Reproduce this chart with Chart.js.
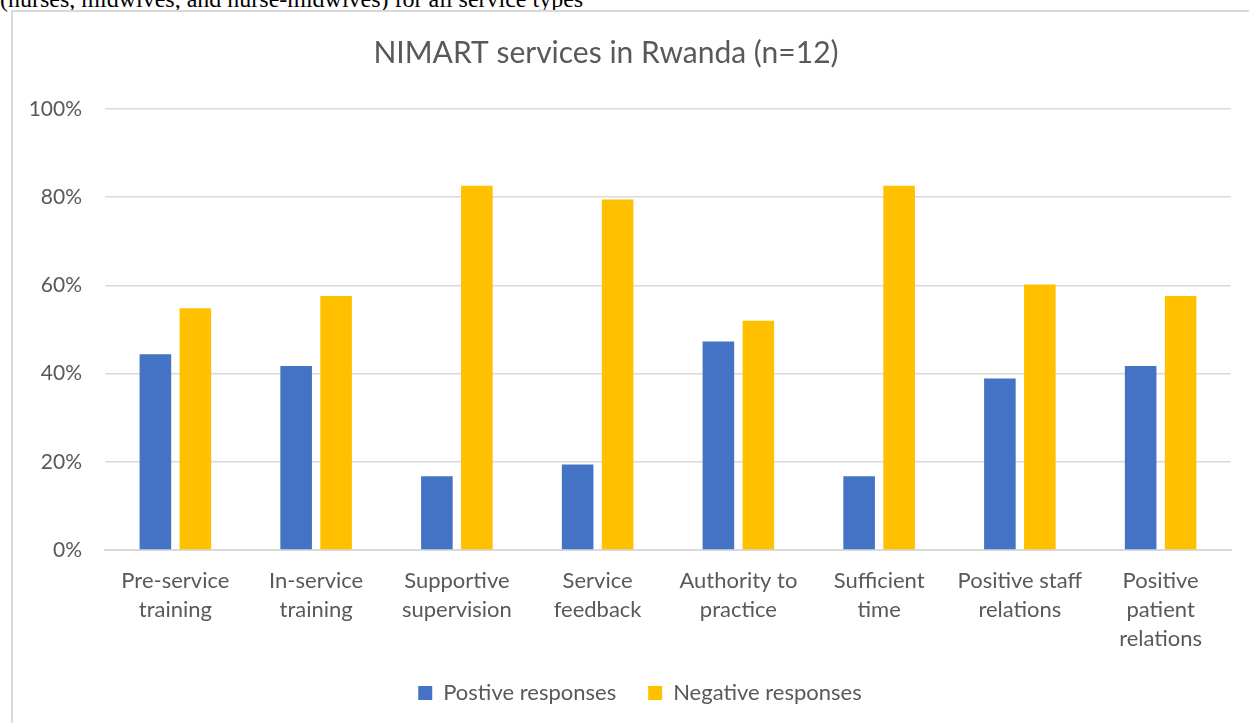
<!DOCTYPE html>
<html>
<head>
<meta charset="utf-8">
<script src="https://cdn.jsdelivr.net/npm/chart.js@4"></script>
<style>
  html, body { margin: 0; padding: 0; background: #fff; overflow: hidden; }
  #caption {
    position: absolute; left: 0; top: -13px;
    font-family: "Liberation Serif", "Times New Roman", serif;
    font-size: 24px; line-height: 24px; color: #000; white-space: nowrap;
  }
  #frame {
    position: absolute; left: 11px; top: 10px; width: 1300px; height: 800px;
    border-left: 2px solid #d9d9d9; border-top: 2px solid #d9d9d9;
  }
  #chart { position: absolute; left: 0; top: 0; }
</style>
</head>
<body>
<div id="caption">(nurses, midwives, and nurse-midwives) for all service types</div>
<div id="frame"></div>
<canvas id="chart" width="1249" height="714"></canvas>
<script>
const categories = [
  ['Pre-service', 'training'],
  ['In-service', 'training'],
  ['Supportive', 'supervision'],
  ['Service', 'feedback'],
  ['Authority to', 'practice'],
  ['Sufficient', 'time'],
  ['Positive staff', 'relations'],
  ['Positive', 'patient', 'relations']
];
const positive = [44.4, 41.7, 16.7, 19.4, 47.3, 16.7, 38.9, 41.7];
const negative = [54.8, 57.6, 82.6, 79.5, 52.0, 82.6, 60.2, 57.6];
const yTicks = [0, 20, 40, 60, 80, 100];

const text = '#595959';
const grid = '#d9d9d9';
const font = 'Lato, "Open Sans", sans-serif';

// excel puts the title a bit left and the legend a bit right of centre
const nudge = {
  id: 'nudge',
  afterLayout(chart) {
    chart.legend.left += 49;
    chart.titleBlock.right -= 19;
  }
};

new Chart(document.getElementById('chart'), {
  type: 'bar',
  data: {
    labels: categories,
    datasets: [
      { label: 'Postive responses', data: positive, backgroundColor: '#4472C4',
        categoryPercentage: 0.568, barPercentage: 0.79 },
      { label: 'Negative responses', data: negative, backgroundColor: '#FFC000',
        categoryPercentage: 0.568, barPercentage: 0.79 }
    ]
  },
  plugins: [nudge],
  options: {
    responsive: false,
    animation: false,
    layout: { padding: { left: 0, right: 18, top: 0, bottom: 0 } },
    scales: {
      x: {
        grid: { display: false, drawTicks: false },
        border: { color: grid, width: 2 },
        ticks: { color: text, font: { family: font, size: 22, lineHeight: 1.318 }, padding: 16, maxRotation: 0, autoSkip: false },
        afterFit: s => { s.height = 100; }
      },
      y: {
        min: 0, max: 100,
        afterBuildTicks: s => { s.ticks = yTicks.map(v => ({ value: v })); },
        grid: { color: grid, lineWidth: 1.5, drawTicks: false },
        border: { display: false },
        ticks: { color: text, font: { family: font, size: 21 }, padding: 23, callback: v => v + '%' },
        afterFit: s => { s.width = 105; }
      }
    },
    plugins: {
      title: {
        display: true, text: 'NIMART services in Rwanda (n=12)', color: text,
        font: { family: font, size: 30, weight: 'normal' },
        padding: { top: 35, bottom: 38 }
      },
      legend: {
        position: 'bottom',
        labels: { color: text, font: { family: font, size: 22 }, boxWidth: 14, boxHeight: 14, padding: 32 }
      },
      tooltip: { enabled: false }
    }
  }
});
</script>
</body>
</html>
